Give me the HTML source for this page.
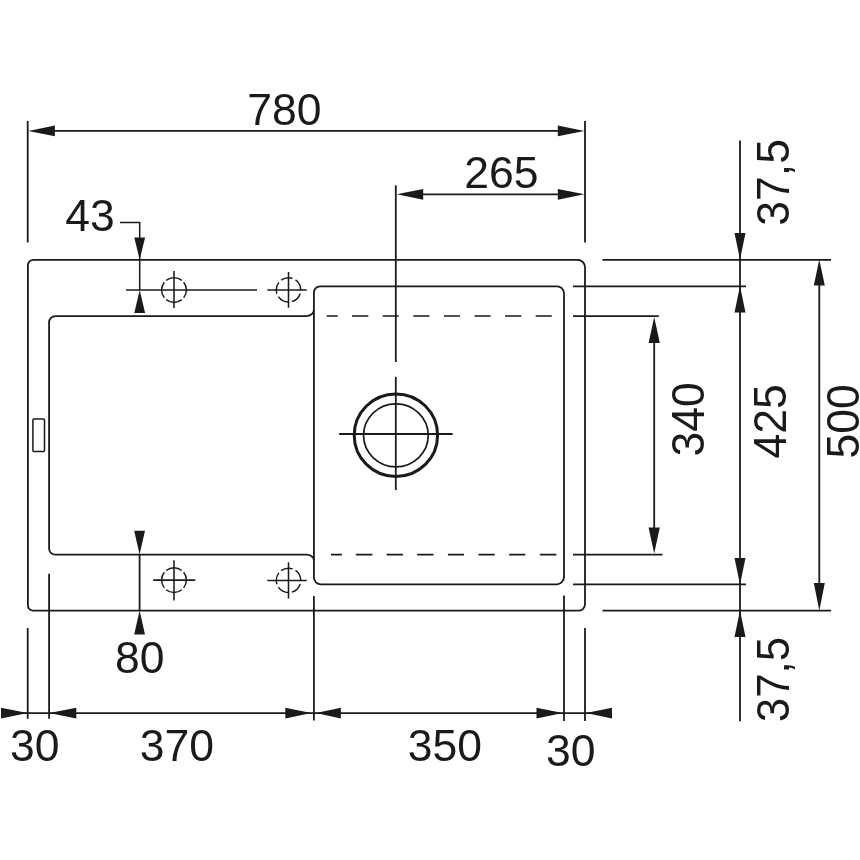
<!DOCTYPE html>
<html>
<head>
<meta charset="utf-8">
<title>Sink dimension drawing</title>
<style>
  html, body { margin: 0; padding: 0; background: #ffffff; }
  body { width: 860px; height: 860px; overflow: hidden; }
  svg { display: block; will-change: transform; filter: grayscale(1); }
  .ln { stroke: #1a1a1a; stroke-width: 1.8; fill: none; stroke-linecap: butt; }
  .ar { fill: #1a1a1a; stroke: none; }
  text { font-family: "Liberation Sans", sans-serif; font-size: 44.5px; fill: #1a1a1a; }
</style>
</head>
<body>
<svg width="860" height="860" viewBox="0 0 860 860">
  <rect x="0" y="0" width="860" height="860" fill="#ffffff"/>

  <!-- ===== sink body ===== -->
  <g class="ln">
    <!-- outer contour -->
    <path d="M33.4,259.8 H577.5 A7.5,7.5 0 0 1 585,267.3 V604.2 A6.5,6.5 0 0 1 578.5,610.7 H33 A5.1,5.1 0 0 1 27.9,605.6 V265.3 A5.5,5.5 0 0 1 33.4,259.8 Z"/>
    <!-- bowl -->
    <path d="M320,286.3 H557 A7,7 0 0 1 564,293.3 V577 A7.4,7.4 0 0 1 556.6,584.4 H321 A7.1,7.1 0 0 1 313.9,577.3 V292.4 A6.1,6.1 0 0 1 320,286.3 Z"/>
    <!-- drainboard -->
    <path d="M313.9,310 A7.8,6.1 0 0 1 306.1,316.1 L55.3,316.1 A6.2,6.2 0 0 0 49.1,322.3 L49.1,548.4 A6.2,6.2 0 0 0 55.3,554.6 L306.1,554.6 A7.8,5.4 0 0 1 313.9,560"/>
    <!-- overflow slot -->
    <rect x="32.9" y="419" width="11.6" height="32.4" rx="1" ry="1" style="stroke-width:1.5"/>
  </g>
  <!-- dashed bowl lines -->
  <g class="ln" style="stroke-width:1.6">
    <path d="M326.8,316 H337.7 M352,316 H368.3 M382.7,316 H398.8 M413.3,316 H429.5 M443.9,316 H460 M474.5,316 H490.6 M505.1,316 H521.2 M535.7,316 H551.8"/>
    <path d="M331,554.6 H341.9 M355.9,554.6 H372.4 M386.6,554.6 H402.9 M417.2,554.6 H433.5 M447.9,554.6 H464 M478.5,554.6 H494.7 M509.2,554.6 H525.3 M539.9,554.6 H556.3"/>
  </g>

  <!-- ===== drain ===== -->
  <ellipse cx="395.9" cy="435.2" rx="41.7" ry="41.3" fill="none" stroke="#1a1a1a" stroke-width="3"/>
  <ellipse cx="395.9" cy="435.3" rx="32.35" ry="31.5" fill="none" stroke="#1a1a1a" stroke-width="1.7"/>
  <g class="ln">
    <path d="M339.2,434 H452.6"/>
    <path d="M395.8,376.8 V490.1"/>
    <path d="M395.8,185.3 V362"/>
  </g>

  <!-- ===== tap holes ===== -->
  <g class="ln" style="stroke-width:1.55">
    <path d="M126,290 H257"/>
    <path d="M174,271.1 V308"/>
    <path d="M267.3,289.9 H306.8"/>
    <path d="M288.5,272 V307.7"/>
    <path d="M153.2,580.1 H195.3"/>
    <path d="M174,560.2 V600.6"/>
    <path d="M267.3,580.4 H306.8"/>
    <path d="M288.5,562.3 V598.5"/>
  </g>
  <g fill="none" stroke="#1a1a1a" stroke-width="1.45">
    <circle cx="174" cy="290" r="12.4" pathLength="360" stroke-dasharray="78 12" stroke-dashoffset="39"/>
    <circle cx="174" cy="580.1" r="12.4" pathLength="360" stroke-dasharray="78 12" stroke-dashoffset="39"/>
    <circle cx="288.5" cy="289.9" r="12.2" pathLength="360" stroke-dasharray="57 15" stroke-dashoffset="-17"/>
    <circle cx="288.5" cy="580.4" r="12.2" pathLength="360" stroke-dasharray="57 15" stroke-dashoffset="-17"/>
  </g>

  <!-- ===== top dimensions ===== -->
  <g class="ln">
    <path d="M27.7,121 V242.5"/>
    <path d="M585,121 V242.5"/>
    <path d="M40,130.9 H572"/>
    <path d="M410,194.3 H572"/>
    <!-- 43 leader -->
    <path d="M120,222.5 H139.7 V290" style="stroke-width:1.5"/>
  </g>
  <g class="ar">
    <path d="M28.3,130.9 L54.9,125.5 L54.9,136.3 Z"/>
    <path d="M584.4,130.9 L557.8,125.5 L557.8,136.3 Z"/>
    <path d="M396.7,194.3 L423.2,188.9 L423.2,199.7 Z"/>
    <path d="M584.4,194.3 L557.8,188.9 L557.8,199.7 Z"/>
    <path d="M139.7,259.8 L134.3,237.5 L145.1,237.5 Z"/>
    <path d="M139.7,290 L134.3,313 L145.1,313 Z"/>
  </g>

  <!-- ===== 80 dimension ===== -->
  <g class="ln">
    <path d="M139.6,554.4 V610.5"/>
  </g>
  <g class="ar">
    <path d="M139.6,554.4 L134.2,530.7 L145,530.7 Z"/>
    <path d="M139.6,610.5 L134.2,634.5 L145,634.5 Z"/>
  </g>

  <!-- ===== right dimensions ===== -->
  <g class="ln">
    <path d="M602.5,259.8 H831"/>
    <path d="M573,286.3 H746"/>
    <path d="M573,316.2 H658.8"/>
    <path d="M573,554.6 H662.5"/>
    <path d="M573,584.4 H746"/>
    <path d="M602.5,610.7 H831"/>
    <path d="M654.2,330 V540"/>
    <path d="M740,140.5 V721.3"/>
    <path d="M819.3,272 V598"/>
  </g>
  <g class="ar">
    <path d="M654.2,317 L648.6,343 L659.8,343 Z"/>
    <path d="M654.2,553.6 L648.6,527.5 L659.8,527.5 Z"/>
    <path d="M740,259.5 L734.5,233 L745.5,233 Z"/>
    <path d="M740,286.1 L734.5,312.5 L745.5,312.5 Z"/>
    <path d="M740,584.4 L734.5,558 L745.5,558 Z"/>
    <path d="M740,610.5 L734.5,637 L745.5,637 Z"/>
    <path d="M819.3,259.5 L813.8,285.5 L824.8,285.5 Z"/>
    <path d="M819.3,610.5 L813.8,583 L824.8,583 Z"/>
  </g>

  <!-- ===== bottom dimensions ===== -->
  <g class="ln">
    <path d="M27.7,628 V718.8"/>
    <path d="M49.1,573.7 V718.8"/>
    <path d="M313.9,596 V720.5"/>
    <path d="M564,595.5 V721"/>
    <path d="M585,628 V721"/>
    <path d="M15,713.1 H600"/>
  </g>
  <g class="ar">
    <path d="M27.7,713.1 L1,707.8 L1,718.4 Z"/>
    <path d="M49.3,713.1 L76.3,707.8 L76.3,718.4 Z"/>
    <path d="M311.3,713.1 L285.3,707.8 L285.3,718.4 Z"/>
    <path d="M316,713.1 L340.8,707.8 L340.8,718.4 Z"/>
    <path d="M562.7,713.1 L536.5,707.8 L536.5,718.4 Z"/>
    <path d="M585.9,713.1 L612,707.8 L612,718.4 Z"/>
  </g>

  <!-- ===== labels ===== -->
  <g text-anchor="middle">
    <text transform="translate(284.4,124.6) scale(1,1.01)">780</text>
    <text transform="translate(501.4,188.1) scale(1,1.01)">265</text>
    <text transform="translate(90,231.1) scale(1,1.01)">43</text>
    <text transform="translate(139.8,672.5) scale(1,1.01)">80</text>
    <text transform="translate(34.8,761.3) scale(1,1.01)">30</text>
    <text transform="translate(176.9,761.3) scale(1,1.01)">370</text>
    <text transform="translate(444.8,761.1) scale(1,1.01)">350</text>
    <text transform="translate(570.7,765.8) scale(1,1.01)">30</text>
    <text transform="translate(704.3,419.4) rotate(-90) scale(1,1.045)">340</text>
    <text transform="translate(786.4,421.5) rotate(-90) scale(1,1.045)">425</text>
    <text transform="translate(859,421.4) rotate(-90) scale(1,1.045)">500</text>
    <text transform="translate(788.5,182.4) rotate(-90) scale(1,1.045)">37,5</text>
    <text transform="translate(788.7,679.6) rotate(-90) scale(0.985,1.045)">37,5</text>
  </g>
</svg>
</body>
</html>
